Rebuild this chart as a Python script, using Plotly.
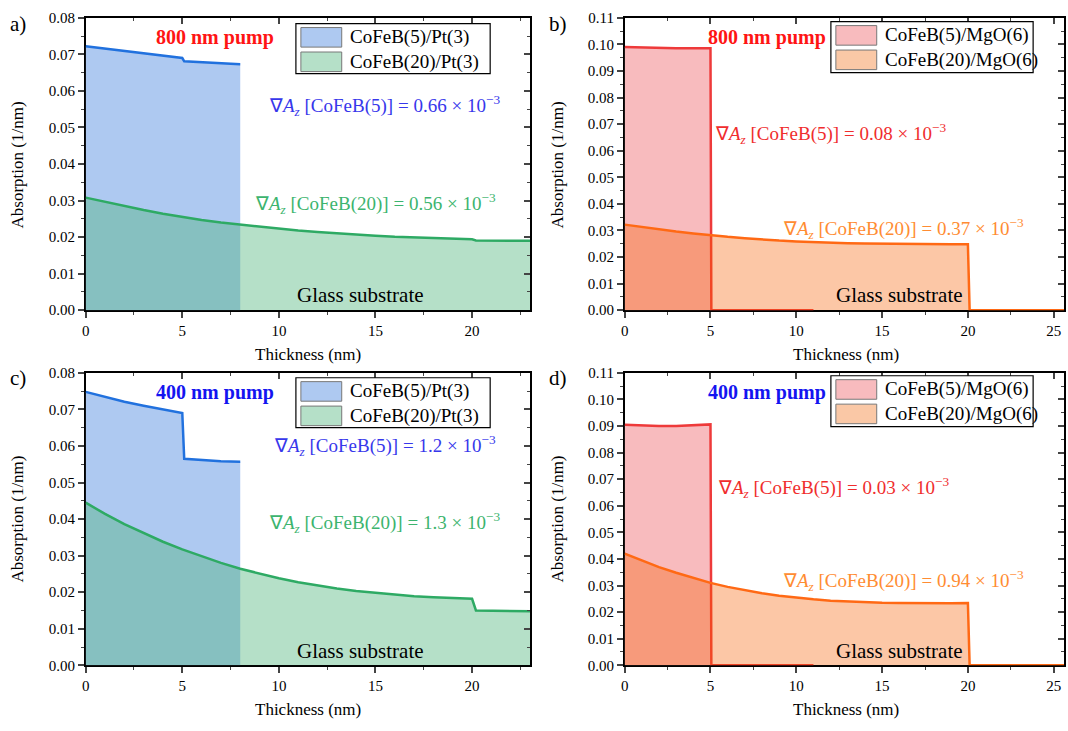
import plotly.graph_objects as go

W, H = 1068, 731

# ---------------- data (absorption in 1/nm, thickness in nm) ----------------
a_pt5_x = [0, 1, 2, 3, 4, 5, 5.1, 6, 7, 8]
a_pt5_y = [0.0722, 0.0716, 0.0710, 0.0704, 0.0698, 0.0690, 0.0681, 0.0678, 0.0675, 0.0673]
a_pt20_x = [0, 1, 2, 3, 4, 5, 6, 7, 8, 9, 10, 11, 12, 13, 14, 15, 16, 17, 18, 19, 20, 20.2, 21, 22, 23]
a_pt20_y = [0.0308, 0.0296, 0.0285, 0.0274, 0.0264, 0.0255, 0.0247, 0.0240, 0.0234, 0.0228,
            0.0223, 0.0218, 0.0214, 0.0210, 0.0207, 0.0204, 0.0201, 0.0199, 0.0197, 0.0196,
            0.0194, 0.0191, 0.0190, 0.0190, 0.0190]

b_mg5_x = [0, 1, 2, 3, 4, 5, 5.05, 11]
b_mg5_y = [0.0990, 0.0988, 0.0986, 0.0985, 0.0985, 0.0985, 0.0, 0.0]
b_mg20_x = [0, 1, 2, 3, 4, 5, 6, 7, 8, 9, 10, 11, 12, 13, 14, 15, 16, 17, 18, 19, 20, 20.1, 25.6]
b_mg20_y = [0.0322, 0.0313, 0.0304, 0.0296, 0.0289, 0.0282, 0.0276, 0.0271, 0.0266, 0.0262,
            0.0259, 0.0256, 0.0254, 0.0252, 0.0251, 0.0250, 0.0249, 0.0249, 0.0248, 0.0248,
            0.0248, 0.0, 0.0]

c_pt5_x = [0, 1, 2, 3, 4, 5, 5.1, 6, 7, 8]
c_pt5_y = [0.0748, 0.0734, 0.0721, 0.0710, 0.0700, 0.0690, 0.0565, 0.0561, 0.0558, 0.0557]
c_pt20_x = [0, 1, 2, 3, 4, 5, 6, 7, 8, 9, 10, 11, 12, 13, 14, 15, 16, 17, 18, 19, 20, 20.2, 21, 22, 23]
c_pt20_y = [0.0445, 0.0414, 0.0386, 0.0361, 0.0338, 0.0317, 0.0298, 0.0280, 0.0264, 0.0250,
            0.0238, 0.0227, 0.0218, 0.0210, 0.0203, 0.0198, 0.0193, 0.0189, 0.0186, 0.0184,
            0.0182, 0.0150, 0.0149, 0.0148, 0.0148]

d_mg5_x = [0, 1, 2, 3, 4, 5, 5.05, 11]
d_mg5_y = [0.0905, 0.0902, 0.0900, 0.0900, 0.0902, 0.0906, 0.0, 0.0]
d_mg20_x = [0, 1, 2, 3, 4, 5, 6, 7, 8, 9, 10, 11, 12, 13, 14, 15, 16, 17, 18, 19, 20, 20.1, 25.6]
d_mg20_y = [0.0420, 0.0393, 0.0369, 0.0348, 0.0328, 0.0310, 0.0295, 0.0282, 0.0271, 0.0262,
            0.0254, 0.0248, 0.0243, 0.0240, 0.0237, 0.0235, 0.0234, 0.0233, 0.0233, 0.0233,
            0.0234, 0.0, 0.0]

names_pt = ["CoFeB(5)/Pt(3)", "CoFeB(20)/Pt(3)"]
names_mg = ["CoFeB(5)/MgO(6)", "CoFeB(20)/MgO(6)"]
grad_a = ["0.66", "0.56"]
grad_b = ["0.08", "0.37"]
grad_c = ["1.2", "1.3"]
grad_d = ["0.03", "0.94"]
pumps = ["800 nm pump", "800 nm pump", "400 nm pump", "400 nm pump"]
panel_labels = ["a)", "b)", "c)", "d)"]

# ---------------- styles ----------------
FONT = "Liberation Serif, Times New Roman, serif"
BLUE_FILL, BLUE_LINE = "rgb(174,201,241)", "rgb(33,113,222)"
GREEN_FILL, GREEN_LINE = "rgba(78,181,124,0.42)", "rgb(46,170,100)"
GREEN_SWATCH = "rgb(181,224,200)"
PINK_FILL, RED_LINE = "rgb(248,187,190)", "rgb(238,58,58)"
ORANGE_FILL, ORANGE_LINE = "rgba(245,95,0,0.35)", "rgb(255,105,20)"
ORANGE_SWATCH = "rgb(250,200,166)"


def px(x, y):
    return x / W, 1 - y / H


fig = go.Figure()

panels = [
    ("x", "y", [(a_pt5_x, a_pt5_y, names_pt[0], BLUE_FILL, BLUE_LINE),
                (a_pt20_x, a_pt20_y, names_pt[1], GREEN_FILL, GREEN_LINE)], [0, 23], [0, 0.08]),
    ("x2", "y2", [(b_mg5_x, b_mg5_y, names_mg[0], PINK_FILL, RED_LINE),
                  (b_mg20_x, b_mg20_y, names_mg[1], ORANGE_FILL, ORANGE_LINE)], [0, 25.6], [0, 0.11]),
    ("x3", "y3", [(c_pt5_x, c_pt5_y, names_pt[0], BLUE_FILL, BLUE_LINE),
                  (c_pt20_x, c_pt20_y, names_pt[1], GREEN_FILL, GREEN_LINE)], [0, 23], [0, 0.08]),
    ("x4", "y4", [(d_mg5_x, d_mg5_y, names_mg[0], PINK_FILL, RED_LINE),
                  (d_mg20_x, d_mg20_y, names_mg[1], ORANGE_FILL, ORANGE_LINE)], [0, 25.6], [0, 0.11]),
]

for xa, ya, series, xr, yr in panels:
    for x, y, name, fc, lc in series:
        fig.add_trace(go.Scatter(x=x, y=y, mode="lines", name=name, fill="tozeroy",
                                 fillcolor=fc, line=dict(color=lc, width=2.5),
                                 xaxis=xa, yaxis=ya, showlegend=False, hoverinfo="skip"))

xdom_l = [82 / W, 528 / W]
xdom_r = [623 / W, 1064 / W]
ydom_t = [1 - 309 / H, 1 - 10 / H]
ydom_b = [1 - 672 / H, 1 - 373 / H]
doms = [(xdom_l, ydom_t), (xdom_r, ydom_t), (xdom_l, ydom_b), (xdom_r, ydom_b)]

tickfont = dict(family=FONT, size=15, color="black")
layout = {}
for i, ((xd, yd), (xa, ya, series, xr, yr)) in enumerate(zip(doms, panels)):
    n = i + 1
    xk = "xaxis" if n == 1 else f"xaxis{n}"
    yk = "yaxis" if n == 1 else f"yaxis{n}"
    layout[xk] = dict(domain=xd, anchor=ya, range=xr, dtick=5, tick0=0, ticks="outside",
                      ticklen=6, tickwidth=1.5, showline=True, linecolor="black", linewidth=1.5,
                      mirror=True, showgrid=False, zeroline=False, tickfont=tickfont,
                      minor=dict(dtick=2.5, ticks="outside", ticklen=3, tickwidth=1.2),
                      layer="below traces")
    layout[yk] = dict(domain=yd, anchor=xa, range=yr, dtick=0.01, tick0=0, ticks="outside",
                      ticklen=6, tickwidth=1.5, showline=True, linecolor="black", linewidth=1.5,
                      mirror=True, showgrid=False, zeroline=False, tickformat=".2f", tickfont=tickfont,
                      minor=dict(dtick=0.005, ticks="outside", ticklen=3, tickwidth=1.2),
                      layer="below traces")
    m = n + 4
    layout[f"xaxis{m}"] = dict(overlaying=xa, anchor=f"y{m}", side="top", range=xr, dtick=5, tick0=0,
                               ticks="inside", ticklen=6, tickwidth=1.5, showticklabels=False,
                               showline=False, showgrid=False, zeroline=False,
                               minor=dict(dtick=2.5, ticks="inside", ticklen=3, tickwidth=1.2))
    layout[f"yaxis{m}"] = dict(overlaying=ya, anchor=f"x{m}", side="right", range=yr, dtick=0.01, tick0=0,
                               ticks="inside", ticklen=6, tickwidth=1.5, showticklabels=False,
                               showline=False, showgrid=False, zeroline=False,
                               minor=dict(dtick=0.005, ticks="inside", ticklen=3, tickwidth=1.2))
    fig.add_trace(go.Scatter(x=[None], y=[None], xaxis=f"x{m}", yaxis=f"y{m}", showlegend=False,
                             hoverinfo="skip"))

fig.update_layout(width=W, height=H, margin=dict(l=0, r=0, t=0, b=0),
                  plot_bgcolor="white", paper_bgcolor="white", showlegend=False,
                  font=dict(family=FONT, color="black"), **layout)

ann = []
shapes = []


def add_text(text, cx, cy, size, color, xanchor="center", bold=False, angle=0):
    x, y = px(cx, cy)
    if bold:
        text = f"<b>{text}</b>"
    ann.append(dict(text=text, x=x, y=y, xref="paper", yref="paper", xanchor=xanchor,
                    yanchor="middle", showarrow=False, textangle=angle,
                    font=dict(family=FONT, size=size, color=color)))


def add_rect(x0, y0, x1, y1, fill, line, lw):
    fx0, fy0 = px(x0, y0)
    fx1, fy1 = px(x1, y1)
    shapes.append(dict(type="rect", xref="paper", yref="paper", x0=fx0, x1=fx1, y0=fy1, y1=fy0,
                       fillcolor=fill, line=dict(color=line, width=lw), layer="above"))


def add_legend(x0, y0, x1, y1, entries):
    add_rect(x0, y0, x1, y1, "white", "black", 1.2)
    for k, (name, col) in enumerate(entries):
        sy = y0 + 4 + k * 25
        add_rect(x0 + 5, sy, x0 + 46, sy + 20, col, "rgb(120,120,120)", 1)
        add_text(name, x0 + 52, sy + 10, 19, "black", xanchor="left")


add_legend(293, 16, 488, 67, [(names_pt[0], BLUE_FILL), (names_pt[1], GREEN_SWATCH)])
add_legend(830, 14, 1033, 66, [(names_mg[0], PINK_FILL), (names_mg[1], ORANGE_SWATCH)])
add_legend(293, 378, 488, 429, [(names_pt[0], BLUE_FILL), (names_pt[1], GREEN_SWATCH)])
add_legend(830, 376, 1033, 428, [(names_mg[0], PINK_FILL), (names_mg[1], ORANGE_SWATCH)])


def grad_text(layer, val):
    return f"∇<i>A</i><sub><i>z</i></sub> [CoFeB({layer})] = {val} × 10<sup>−3</sup>"


GB_TXT = "rgb(55,55,235)"
GR_TXT = "rgb(60,180,110)"
RD_TXT = "rgb(240,45,45)"
OR_TXT = "rgb(255,140,50)"

add_text(pumps[0], 212, 30, 20, "rgb(255,20,20)", bold=True)
add_text(grad_text(5, grad_a[0]), 382, 100, 19, GB_TXT)
add_text(grad_text(20, grad_a[1]), 373, 200, 19, GR_TXT)
add_text("Glass substrate", 358, 293, 21, "black")

add_text(pumps[1], 766, 30, 20, "rgb(255,20,20)", bold=True)
add_text(grad_text(5, grad_b[0]), 830, 128, 19, RD_TXT)
add_text(grad_text(20, grad_b[1]), 903, 225, 19, OR_TXT)
add_text("Glass substrate", 899, 293, 21, "black")

add_text(pumps[2], 212, 393, 20, "rgb(20,20,240)", bold=True)
add_text(grad_text(5, grad_c[0]), 382, 447, 19, GB_TXT)
add_text(grad_text(20, grad_c[1]), 382, 526, 19, GR_TXT)
add_text("Glass substrate", 358, 657, 21, "black")

add_text(pumps[3], 766, 393, 20, "rgb(20,20,240)", bold=True)
add_text(grad_text(5, grad_d[0]), 833, 490, 19, RD_TXT)
add_text(grad_text(20, grad_d[1]), 903, 585, 19, OR_TXT)
add_text("Glass substrate", 899, 657, 21, "black")

for lab, (cx, cy) in zip(panel_labels, [(14, 16), (556, 16), (14, 378), (556, 378)]):
    add_text(lab, cx, cy, 21, "black")

for cx, cy in [(14, 160), (556, 160), (14, 522), (556, 522)]:
    add_text("Absorption (1/nm)", cx, cy, 17, "black", angle=-90)
for cx, cy in [(305, 354), (845, 354), (305, 717), (845, 717)]:
    add_text("Thickness (nm)", cx, cy, 17, "black")

fig.update_layout(annotations=ann, shapes=shapes)
fig.write_html("out.html", config={"displayModeBar": False},
               post_script="document.body.style.margin='0';document.body.style.overflow='hidden';")
